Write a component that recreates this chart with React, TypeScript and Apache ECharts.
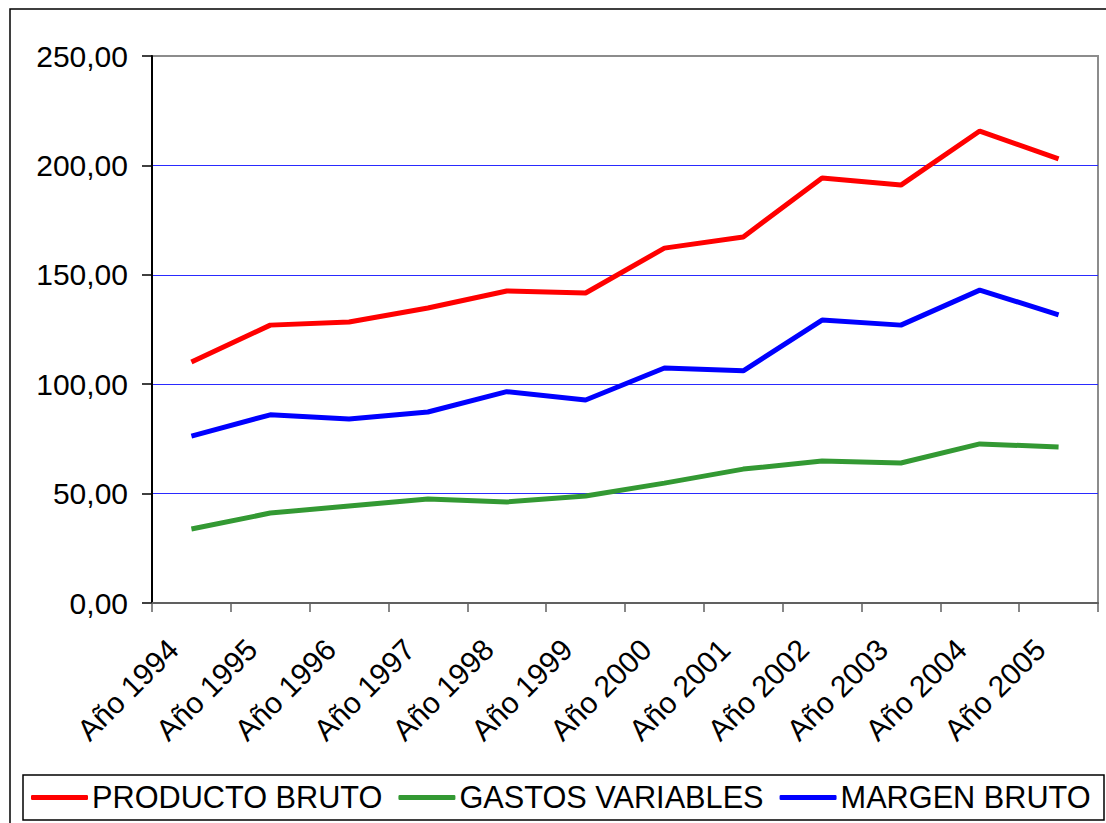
import React, { useEffect, useRef } from "react";
import * as echarts from "echarts";

const categories = ["Año 1994", "Año 1995", "Año 1996", "Año 1997", "Año 1998", "Año 1999", "Año 2000", "Año 2001", "Año 2002", "Año 2003", "Año 2004", "Año 2005"];
const productoBruto = [110.1, 127.0, 128.4, 134.8, 142.6, 141.7, 162.2, 167.3, 194.2, 191.0, 215.7, 203.0];
const gastosVariables = [33.8, 41.1, 44.3, 47.5, 46.2, 48.9, 54.8, 61.2, 64.9, 64.0, 72.7, 71.3];
const margenBruto = [76.3, 86.0, 84.1, 87.3, 96.6, 92.8, 107.4, 106.1, 129.3, 127.0, 143.0, 131.7];
const yTicks = [0, 50, 100, 150, 200, 250];

const FONT = "'Liberation Sans', Arial, sans-serif";

export default function App() {
  const ref = useRef<HTMLDivElement>(null);
  useEffect(() => {
    if (!ref.current) return;
    const chart = echarts.init(ref.current, null, { renderer: "svg" });
    const mk = (name: string, data: number[], color: string) => ({
      name,
      type: "line",
      data,
      symbol: "none",
      lineStyle: { color, width: 5 },
      itemStyle: { color },
      z: 3,
    });
    chart.setOption({
      animation: false,
      backgroundColor: "#ffffff",
      textStyle: { fontFamily: FONT },
      grid: {
        left: 152,
        top: 56,
        right: 8,
        bottom: 220,
        show: true,
        borderColor: "#8c8c8c",
        borderWidth: 2,
        backgroundColor: "transparent",
      },
      graphic: [
        {
          type: "rect",
          shape: { x: 10, y: 9, width: 1110, height: 830 },
          style: { fill: "none", stroke: "#000", lineWidth: 1.5 },
          z: -1,
        },
        {
          type: "rect",
          shape: { x: 23, y: 775, width: 1081, height: 45 },
          style: { fill: "none", stroke: "#000", lineWidth: 1.5 },
        },
      ],
      legend: {
        left: 31,
        top: 782,
        itemGap: 16,
        itemWidth: 57,
        itemHeight: 5,
        icon: "roundRect",
        padding: 0,
        textStyle: { fontFamily: FONT, fontSize: 30.7, color: "#000", padding: [0, 0, 0, -1] },
        data: ["PRODUCTO BRUTO", "GASTOS VARIABLES", "MARGEN BRUTO"],
      },
      xAxis: {
        type: "category",
        data: categories,
        boundaryGap: true,
        axisLine: { lineStyle: { color: "#606060", width: 2 } },
        axisTick: { show: true, alignWithLabel: false, length: 9, lineStyle: { color: "#606060", width: 1.5 } },
        axisLabel: {
          rotate: 45,
          fontSize: 30,
          color: "#000",
          fontFamily: FONT,
          margin: 23,
          interval: 0,
          padding: [0, 26, 0, 0],
        },
        splitLine: { show: false },
      },
      yAxis: {
        type: "value",
        min: yTicks[0],
        max: yTicks[yTicks.length - 1],
        interval: 50,
        axisLine: { show: true, lineStyle: { color: "#000", width: 2 } },
        axisTick: { show: true, length: 10, lineStyle: { color: "#000", width: 1.5 } },
        axisLabel: {
          fontSize: 30,
          color: "#000",
          fontFamily: FONT,
          margin: 24,
          formatter: (v: number) => v.toFixed(2).replace(".", ","),
        },
        splitLine: {
          show: true,
          lineStyle: { color: ["transparent", "#2a2aff", "#2a2aff", "#2a2aff", "#2a2aff", "#8c8c8c"], width: 1.2 },
        },
      },
      series: [
        mk("PRODUCTO BRUTO", productoBruto, "#ff0000"),
        mk("GASTOS VARIABLES", gastosVariables, "#339933"),
        mk("MARGEN BRUTO", margenBruto, "#0000ff"),
      ],
    });
    return () => chart.dispose();
  }, []);
  return <div ref={ref} style={{ position: "absolute", left: 0, top: 0, width: 1106, height: 823 }} />;
}
